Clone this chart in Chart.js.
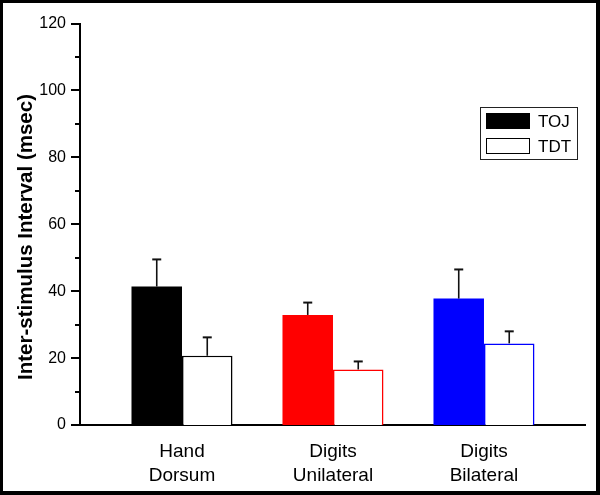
<!DOCTYPE html>
<html>
<head>
<meta charset="utf-8">
<script src="https://cdn.jsdelivr.net/npm/chart.js@4.4.0/dist/chart.umd.min.js"></script>
<style>
  html, body { margin: 0; padding: 0; background: #fff; }
  #wrap { width: 600px; height: 495px; }
</style>
</head>
<body>
<div id="wrap"><canvas id="isiChart" width="600" height="495"></canvas></div>
<script>
// ── Data ───────────────────────────────────────────────────────
const categories  = [['Hand', 'Dorsum'], ['Digits', 'Unilateral'], ['Digits', 'Bilateral']];
const groupColors = ['#000000', '#ff0000', '#0000ff'];
const tojMeans    = [41.4, 32.9, 37.8];
const tojErrors   = [8.1, 3.7, 8.7];
const tdtMeans    = [20.7, 16.6, 24.4];
const tdtErrors   = [5.5, 2.4, 3.6];
const yMajorTicks = [0, 20, 40, 60, 80, 100, 120];
const yMinorTicks = [10, 30, 50, 70, 90, 110];
const yTitle      = 'Inter-stimulus Interval (msec)';

const FONT = "'Liberation Sans', Arial, Helvetica, sans-serif";
const groupX = categories.map((_, i) => i + 1);

// ── Plugin: upward error bars ──────────────────────────────────
const errorBars = {
  id: 'errorBars',
  afterDatasetsDraw(chart) {
    const ctx = chart.ctx;
    const y   = chart.scales.y;
    chart.data.datasets.forEach((ds, di) => {
      chart.getDatasetMeta(di).data.forEach((bar, i) => {
        const top = y.getPixelForValue(ds.data[i].y + ds.errors[i]);
        ctx.save();
        ctx.strokeStyle = '#111';
        ctx.lineWidth = 1.6;
        ctx.beginPath();
        ctx.moveTo(bar.x, bar.y);
        ctx.lineTo(bar.x, top);
        ctx.stroke();
        ctx.lineWidth = 2;
        ctx.beginPath();
        ctx.moveTo(bar.x - 4.5, top);
        ctx.lineTo(bar.x + 4.5, top);
        ctx.stroke();
        ctx.restore();
      });
    });
  }
};

// ── Plugin: y ticks (major/minor, outward) and rotated title ───
const yAxisExtras = {
  id: 'yAxisExtras',
  afterDraw(chart) {
    const ctx = chart.ctx;
    const y   = chart.scales.y;
    const x0  = chart.chartArea.left;
    ctx.save();
    ctx.strokeStyle = '#000';
    ctx.lineWidth = 2;
    const mark = (v, len) => {
      const py = Math.round(y.getPixelForValue(v));
      ctx.beginPath();
      ctx.moveTo(x0 - len, py);
      ctx.lineTo(x0, py);
      ctx.stroke();
    };
    yMajorTicks.forEach(v => mark(v, 9));
    yMinorTicks.forEach(v => mark(v, 5));

    // axis title, centred a little below the plot's middle as in the figure
    ctx.translate(32, 237);
    ctx.rotate(-Math.PI / 2);
    ctx.font = `bold 20.5px ${FONT}`;
    ctx.fillStyle = '#000';
    ctx.textAlign = 'center';
    ctx.textBaseline = 'alphabetic';
    ctx.fillText(yTitle, 0, 0);
    ctx.restore();
  }
};

// ── Plugin: boxed legend inside the plot + outer frame ─────────
const boxLegend = {
  id: 'boxLegend',
  afterDraw(chart) {
    const ctx = chart.ctx;
    ctx.save();
    ctx.strokeStyle = '#222';
    ctx.lineWidth = 1;
    ctx.strokeRect(480.5, 107.5, 97, 52);
    const ds = chart.data.datasets;
    const rows = [
      { label: ds[0].label, fill: '#000', y: 113 },
      { label: ds[1].label, fill: '#fff', y: 138 }
    ];
    ctx.font = `17px ${FONT}`;
    ctx.textBaseline = 'middle';
    rows.forEach(r => {
      ctx.fillStyle = r.fill;
      ctx.fillRect(486, r.y, 44, 16);
      ctx.strokeStyle = '#000';
      ctx.strokeRect(486.5, r.y + 0.5, 43, 15);
      ctx.fillStyle = '#000';
      ctx.fillText(r.label, 538, r.y + 9);
    });
    // outer frame
    ctx.fillStyle = '#000';
    ctx.fillRect(0, 0, 600, 3);
    ctx.fillRect(0, 0, 3, 495);
    ctx.fillRect(596, 0, 4, 495);
    ctx.fillRect(0, 491, 600, 4);
    ctx.restore();
  }
};

new Chart(document.getElementById('isiChart'), {
  type: 'bar',
  data: {
    datasets: [
      {
        label:           'TOJ',
        data:            groupX.map((x, i) => ({ x, y: tojMeans[i] })),
        errors:          tojErrors,
        backgroundColor: groupColors,
        borderWidth:     0
      },
      {
        label:           'TDT',
        data:            groupX.map((x, i) => ({ x, y: tdtMeans[i] })),
        errors:          tdtErrors,
        backgroundColor: '#ffffff',
        borderColor:     groupColors,
        borderWidth:     1.6,
        borderSkipped:   'bottom'
      }
    ]
  },
  options: {
    responsive:       false,
    devicePixelRatio: 1,
    animation:        false,
    barPercentage:      1,
    categoryPercentage: 0.669,
    layout: { padding: { top: 17, right: 15, left: 0, bottom: 0 } },
    plugins: {
      legend:  { display: false },
      tooltip: { enabled: false }
    },
    scales: {
      x: {
        type:   'linear',
        offset: false,
        min:    0.3245,
        max:    3.669,
        grid:   { display: false, drawTicks: false },
        border: { display: true, color: '#000', width: 2 },
        afterBuildTicks: (scale) => { scale.ticks = groupX.map(v => ({ value: v })); },
        afterFit: (scale) => { scale.height = 70; },
        ticks: {
          padding:  14,
          color:    '#000',
          maxRotation: 0,
          autoSkip: false,
          font:     { family: FONT, size: 19, lineHeight: 1.3 },
          callback: (v) => categories[v - 1]
        }
      },
      y: {
        min: 0,
        max: 120,
        grid:   { display: false, drawTicks: false },
        border: { display: true, color: '#000', width: 2 },
        afterBuildTicks: (scale) => { scale.ticks = yMajorTicks.map(v => ({ value: v })); },
        afterFit: (scale) => { scale.width = 80; },
        ticks: {
          padding: 14,
          color:   '#000',
          font:    { family: FONT, size: 16 }
        }
      }
    }
  },
  plugins: [errorBars, yAxisExtras, boxLegend]
});
</script>
</body>
</html>
